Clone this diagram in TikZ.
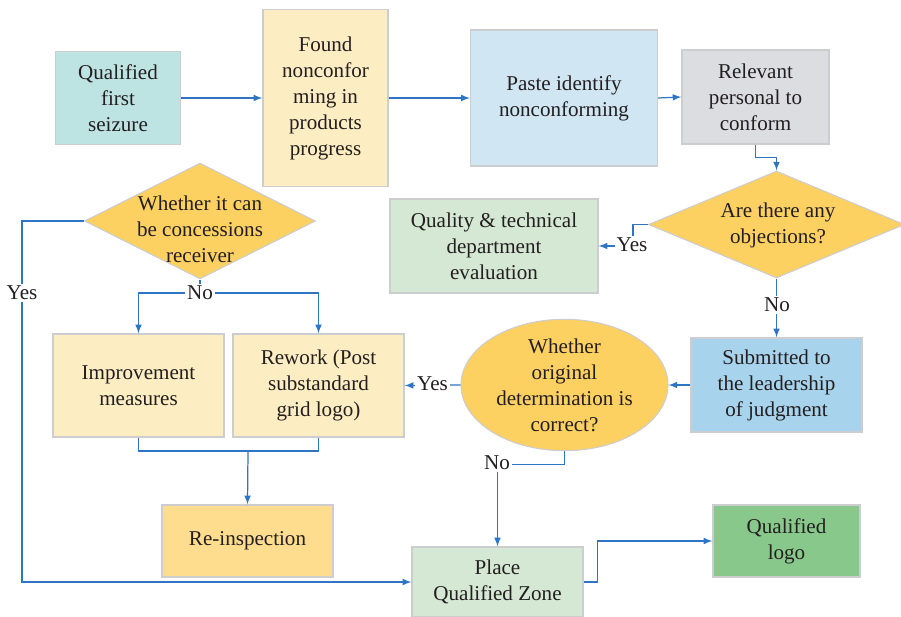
\documentclass[tikz,border=0pt]{standalone}
\usepackage{fontspec}
\setmainfont{Liberation Serif}
\usepackage{tikz}
\usetikzlibrary{arrows,shapes,positioning}
\usepackage{xcolor}
\definecolor{qcblue}{RGB}{46,117,198}
\definecolor{qcborder}{RGB}{204,205,206}
\definecolor{qcteal}{RGB}{190,227,227}
\definecolor{qccream}{RGB}{253,237,194}
\definecolor{qcsky}{RGB}{208,230,243}
\definecolor{qcgray}{RGB}{220,221,224}
\definecolor{qcorange}{RGB}{253,208,98}
\definecolor{qcmint}{RGB}{213,232,212}
\definecolor{qcazure}{RGB}{168,211,236}
\definecolor{qcgold}{RGB}{254,221,142}
\definecolor{qcgreen}{RGB}{136,201,139}
\definecolor{qctext}{RGB}{35,31,32}
\tikzstyle{arrow} = [line width=0.7pt,->,>=latex,color=qcblue]
\tikzstyle{link} = [line width=0.7pt,color=qcblue]
\tikzstyle{procbox} = [rectangle, align=center, text centered, draw=qcborder, line width=0.8pt, inner sep=2pt, text=qctext, font=\fontsize{12}{14.8}\selectfont]
\tikzstyle{decision} = [diamond, draw=qcborder, line width=0.6pt, fill=qcorange, inner sep=0pt]
\tikzstyle{decisiontext} = [align=center, inner sep=0pt, text=qctext, font=\fontsize{12}{14.8}\selectfont]
\tikzstyle{answer} = [fill=white, inner sep=1pt, text=qctext, font=\fontsize{12}{14.8}\selectfont]

\begin{document}
\begin{tikzpicture}[x=0.02cm, y=-0.02cm]
\useasboundingbox (0,0) rectangle (901,617);
% top row
\node[procbox, minimum width=2.5cm, minimum height=1.86cm, fill=qcteal] (first) at (118,98) {Qualified\\first\\seizure};
\node[procbox, minimum width=2.5cm, minimum height=3.54cm, fill=qccream] (found) at (325.5,98) {Found\\nonconfor\\ming in\\products\\progress};
\node[procbox, minimum width=3.74cm, minimum height=2.72cm, fill=qcsky] (paste) at (564,98) {Paste identify\\nonconforming};
\node[procbox, minimum width=2.94cm, minimum height=1.88cm, fill=qcgray] (relevant) at (755.5,97) {Relevant\\personal to\\conform};

% decisions
\node[decision, minimum width=5.12cm, minimum height=2.14cm] (objection) at (776.5,224.5) {};
\node[decisiontext] (objectiontext) at (778,225) {Are there any\\objections?};
\node[procbox, minimum width=4.16cm, minimum height=1.88cm, fill=qcmint] (evaluation) at (494,246) {Quality \& technical\\department\\evaluation};
\node[decision, minimum width=4.62cm, minimum height=2.32cm] (concession) at (200,221) {};
\node[decisiontext] (concessiontext) at (200,229) {Whether it can\\be concessions\\receiver};

% middle row
\node[procbox, minimum width=3.42cm, minimum height=2.06cm, fill=qccream] (improve) at (138.5,385.5) {Improvement\\measures};
\node[procbox, minimum width=3.42cm, minimum height=2.06cm, fill=qccream] (rework) at (318.5,385.5) {Rework (Post\\substandard\\grid logo)};
\node[ellipse, align=center, draw=qcborder, line width=0.6pt, fill=qcorange, inner sep=0pt, text=qctext, font=\fontsize{12}{14.8}\selectfont, minimum width=4.14cm, minimum height=2.56cm] (original) at (564.5,385) {Whether\\original\\determination is\\correct?};
\node[procbox, minimum width=3.42cm, minimum height=1.88cm, fill=qcazure] (leader) at (776.5,385) {Submitted to\\the leadership\\of judgment};

% bottom row
\node[procbox, minimum width=3.42cm, minimum height=1.44cm, fill=qcgold] (reinspect) at (247.5,541) {Re-inspection};
\node[procbox, minimum width=3.42cm, minimum height=1.4cm, fill=qcmint] (zone) at (497.5,582) {Place\\Qualified Zone};
\node[procbox, minimum width=2.94cm, minimum height=1.44cm, fill=qcgreen] (logo) at (786.5,541) {Qualified\\logo};

% connectors
\draw[arrow] (first.east) -- (found.west);
\draw[arrow] (found.east) -- (paste.west);
\draw[arrow] (paste.east) -- (relevant.west);
\draw[arrow] (relevant.south) -- ++(0,13) -| (objection.north);
\draw[arrow] (objection.west) -- ++(-15,0) |- (evaluation.east);
\draw[arrow] (objection.south) -- (leader.north);
\draw[arrow] (leader.west) -- (original.east);
\draw[arrow] (original.west) -- (rework.east);
\draw[arrow] (original.south) -- ++(0,13) -| (zone.north);
\draw[arrow] (zone.east) -- ++(14,0) |- (logo.west);

\coordinate (yesturn) at (22,221);
\draw[arrow] (concession.west) -- (yesturn) |- (zone.west);
\coordinate (nosplit) at (200,293);
\draw[link] (concession.south) -- (nosplit);
\draw[arrow] (nosplit) -| (improve.north);
\draw[arrow] (nosplit) -| (rework.north);
\coordinate (merge) at (248,451);
\draw[link] (improve.south) |- (merge);
\draw[link] (rework.south) |- (merge);
\draw[arrow] (merge) -- (reinspect.north);

% answers
\node[answer] (yesobj) at (632,245) {Yes};
\node[answer] (noobj) at (777,305) {No};
\node[answer] (yesorig) at (432.5,384) {Yes};
\node[answer] (noorig) at (497,463) {No};
\node[answer] (yesconc) at (22,293) {Yes};
\node[answer] (noconc) at (200,293) {No};
\end{tikzpicture}
\end{document}
